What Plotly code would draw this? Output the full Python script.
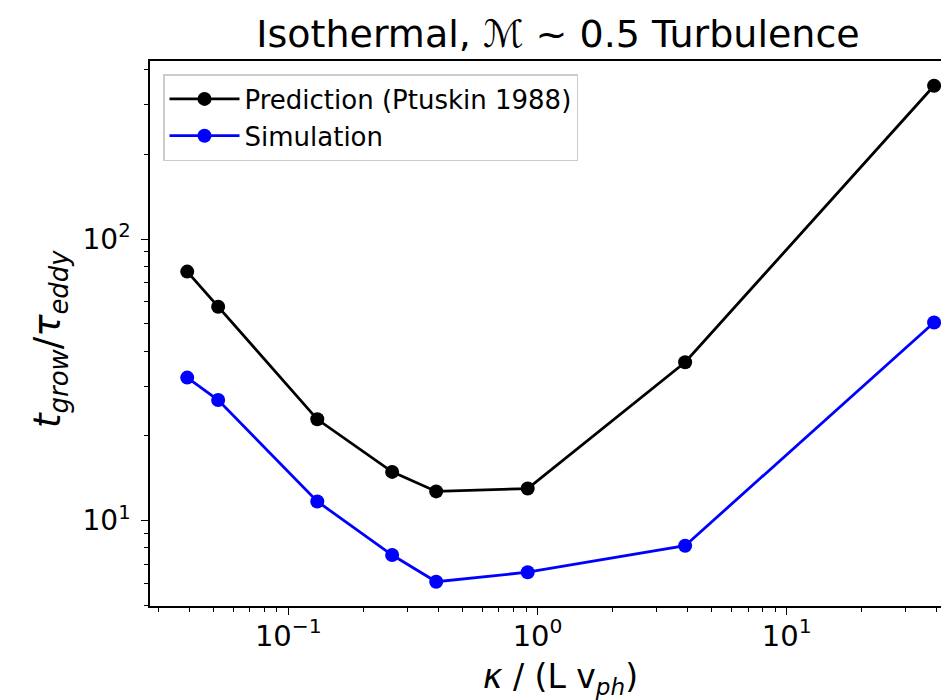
import plotly.graph_objects as go

# Data
kappa = [0.0393, 0.0523, 0.1307, 0.261, 0.392, 0.913, 3.91, 39.0]
prediction = [76.6, 57.5, 22.9, 14.9, 12.7, 13.0, 36.5, 350.0]
simulation = [32.2, 26.8, 11.7, 7.55, 6.07, 6.56, 8.15, 50.5]

series_names = ["Prediction (Ptuskin 1988)", "Simulation"]
series_colors = ["black", "#0000ff"]

x_tickvals = [0.1, 1, 10]
x_ticktext = ["10<sup>\u22121</sup>", "10<sup>0</sup>", "10<sup>1</sup>"]
y_tickvals = [10, 100]
y_ticktext = ["10<sup>1</sup>", "10<sup>2</sup>"]

FONT = "DejaVu Sans"

# page body has an 8px margin: size the figure so it fits the 949x700 window
W, H = 941, 692
L, T, B = 142, 53, 94
PW, PH = W - L, H - T - B

fig = go.Figure()
for name, vals, col in zip(series_names, [prediction, simulation], series_colors):
    fig.add_trace(go.Scatter(
        x=kappa, y=vals, name=name, mode="lines+markers",
        line=dict(color=col, width=2.8),
        marker=dict(color=col, size=14),
    ))

def minor_vals(lo, hi):
    out = []
    for e in range(lo, hi):
        for d in range(2, 10):
            out.append(d * 10.0 ** e)
    return out

fig.update_layout(
    width=W, height=H,
    margin=dict(l=L, r=0, t=T, b=B, pad=0),
    plot_bgcolor="white", paper_bgcolor="white",
    font=dict(family=FONT, color="black"),
    title=dict(text="Isothermal, \u2133 ~ 0.5 Turbulence",
               x=550 / W, xref="container", xanchor="center",
               y=1 - 26 / H, yref="container", yanchor="middle",
               font=dict(size=38, family=FONT, color="black")),
    showlegend=True,
    legend=dict(x=13 / PW, y=1 - 13 / PH, xanchor="left", yanchor="top",
                bgcolor="white", bordercolor="#cccccc", borderwidth=1.5,
                font=dict(size=26, family=FONT, color="black"),
                itemwidth=70),
)

fig.update_xaxes(
    type="log", range=[-1.555, 1.651],
    showgrid=False, zeroline=False,
    showline=True, linecolor="black", linewidth=1.6, mirror=True,
    ticks="outside", ticklen=7, tickwidth=1.3, tickcolor="black",
    tickvals=x_tickvals, ticktext=x_ticktext,
    tickfont=dict(size=29, family=FONT, color="black"),
    ticklabelstandoff=-4,
    minor=dict(tickvals=minor_vals(-2, 2), ticks="outside", ticklen=4,
               tickwidth=1, tickcolor="black", showgrid=False),
)
fig.update_yaxes(
    type="log", range=[0.697, 2.632],
    showgrid=False, zeroline=False,
    showline=True, linecolor="black", linewidth=1.6, mirror=False,
    ticks="outside", ticklen=7, tickwidth=1.3, tickcolor="black",
    tickvals=y_tickvals, ticktext=y_ticktext,
    tickfont=dict(size=28, family=FONT, color="black"),
    ticklabelstandoff=5,
    minor=dict(tickvals=minor_vals(0, 3), ticks="outside", ticklen=4,
               tickwidth=1, tickcolor="black", showgrid=False),
)

# axis labels as annotations (the original axes extend slightly beyond the crop)
fig.add_annotation(
    text="<i>\u03ba</i> / (L v<sub><i>ph</i></sub>)",
    xref="paper", yref="paper",
    x=(552 - L) / PW, y=-72 / PH,
    xanchor="center", yanchor="middle", showarrow=False,
    font=dict(size=33, family=FONT, color="black"),
)
fig.add_annotation(
    text="<i>t</i><sub><i>grow</i></sub>/<i>\u03c4</i><sub><i>eddy</i></sub>",
    xref="paper", yref="paper",
    x=-(L - 42) / PW, y=0.49, textangle=-90,
    xanchor="center", yanchor="middle", showarrow=False,
    font=dict(size=37, family=FONT, color="black"),
)

fig.write_html("out.html")
